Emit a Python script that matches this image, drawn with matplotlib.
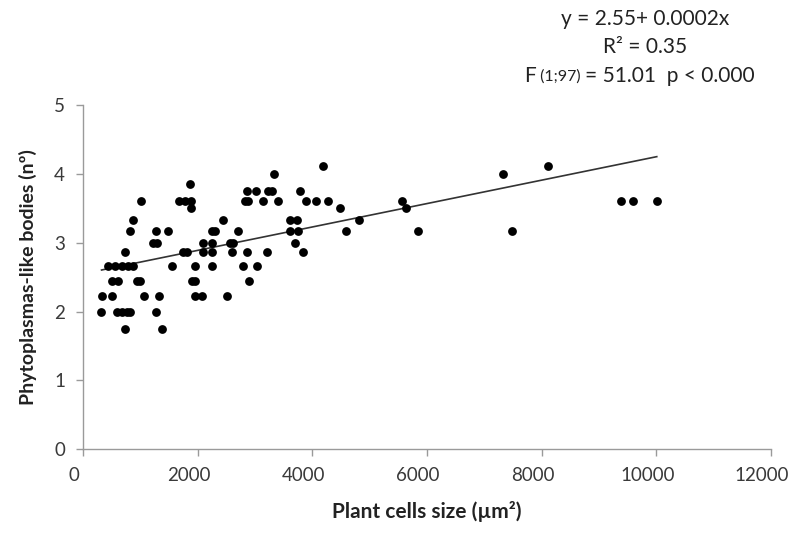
import matplotlib.pyplot as plt
import matplotlib.transforms as mtransforms
import numpy as np

# cell size (um2) and number of phytoplasma-like bodies
cell_size = [
    4188, 8101,
    3333, 7316,
    1862,
    2852, 3014, 3229, 3288, 3782,
    1007, 1675, 1775, 1874, 2822, 2880, 3131, 3393, 3887, 4056, 4276, 5557, 9384, 9599, 10007,
    1874, 4480, 5632,
    873, 2443, 3607, 3735, 4817,
    815, 1269, 1473, 2241, 2298, 2705, 3607, 3752, 4579, 5846, 7487,
    1222, 1281, 2094, 2241, 2560, 2618, 3695,
    728, 1745, 1805, 2094, 2241, 2600, 2852, 3211, 3829,
    436, 553, 670, 785, 873, 1543, 1949, 2241, 2792, 3030,
    496, 611, 932, 990, 1892, 1949, 2892,
    321, 496, 1065, 1326, 1949, 2066, 2503,
    304, 583, 670, 757, 815, 1269,
    728, 1368,
]
bodies = [
    4.11, 4.11,
    4.0, 4.0,
    3.86,
    3.75, 3.75, 3.75, 3.75, 3.75,
    3.6, 3.6, 3.6, 3.6, 3.6, 3.6, 3.6, 3.6, 3.6, 3.6, 3.6, 3.6, 3.6, 3.6, 3.6,
    3.5, 3.5, 3.5,
    3.33, 3.33, 3.33, 3.33, 3.33,
    3.17, 3.17, 3.17, 3.17, 3.17, 3.17, 3.17, 3.17, 3.17, 3.17, 3.17,
    3.0, 3.0, 3.0, 3.0, 3.0, 3.0, 3.0,
    2.86, 2.86, 2.86, 2.86, 2.86, 2.86, 2.86, 2.86, 2.86,
    2.67, 2.67, 2.67, 2.67, 2.67, 2.67, 2.67, 2.67, 2.67, 2.67,
    2.44, 2.44, 2.44, 2.44, 2.44, 2.44, 2.44,
    2.22, 2.22, 2.22, 2.22, 2.22, 2.22, 2.22,
    2.0, 2.0, 2.0, 2.0, 2.0, 2.0,
    1.75, 1.75,
]

# regression line as drawn in the figure
fit_intercept = 2.55
fit_slope = 0.00017
fit_range = [321, 10007]

x_ticks = [0, 2000, 4000, 6000, 8000, 10000, 12000]
y_ticks = [0, 1, 2, 3, 4, 5]

plt.rcParams['font.family'] = ['Lato', 'DejaVu Sans']

fig = plt.figure(figsize=(7.92, 5.39), dpi=100)
ax = fig.add_axes([0.105, 0.1664, 0.8685, 0.6386])

ax.scatter(cell_size, bodies, s=40, color='black', zorder=3, linewidths=0)
fx = np.array(fit_range)
ax.plot(fx, fit_intercept + fit_slope * fx, color='#333333', lw=1.2, zorder=2)

ax.set_xlim(0, 12000)
ax.set_ylim(0, 5)
ax.set_xticks(x_ticks)
ax.set_yticks(y_ticks)

for side in ['top', 'right']:
    ax.spines[side].set_visible(False)
for side in ['left', 'bottom']:
    ax.spines[side].set_color('#9a9a9a')
    ax.spines[side].set_linewidth(1.0)
ax.tick_params(axis='both', colors='#9a9a9a', length=5, width=1, labelsize=13.5,
               labelcolor='#3a3a3a', pad=8)

# x tick labels sit a little left of their ticks in the original
shift = mtransforms.ScaledTranslation(-9 / 100, 0, fig.dpi_scale_trans)
for lab in ax.get_xticklabels():
    lab.set_transform(lab.get_transform() + shift)

ax.set_xlabel('Plant cells size (µm²)', fontsize=15, fontweight='bold', color='#222222', labelpad=12)
ax.set_ylabel('Phytoplasmas-like bodies (nº)', fontsize=14, fontweight='bold', color='#222222', labelpad=12)

# equation block, top right
txt = dict(fontsize=15, color='#222222', ha='center', va='center')
fig.text(0.815, 0.965, 'y = 2.55+ 0.0002x', **txt)
fig.text(0.815, 0.912, 'R² = 0.35', **txt)
t1 = fig.text(0.662, 0.848, 'F', fontsize=15, color='#222222', ha='left', va='baseline')
t2 = ax.annotate(' (1;97) ', xy=(1, 0.45), xycoords=t1, fontsize=11.5, color='#222222',
                 ha='left', va='center')
ax.annotate('= 51.01  p < 0.000', xy=(1, 0), xycoords=(t2, t1), fontsize=15, color='#222222',
            ha='left', va='bottom')

plt.savefig('out.png', dpi=100)
